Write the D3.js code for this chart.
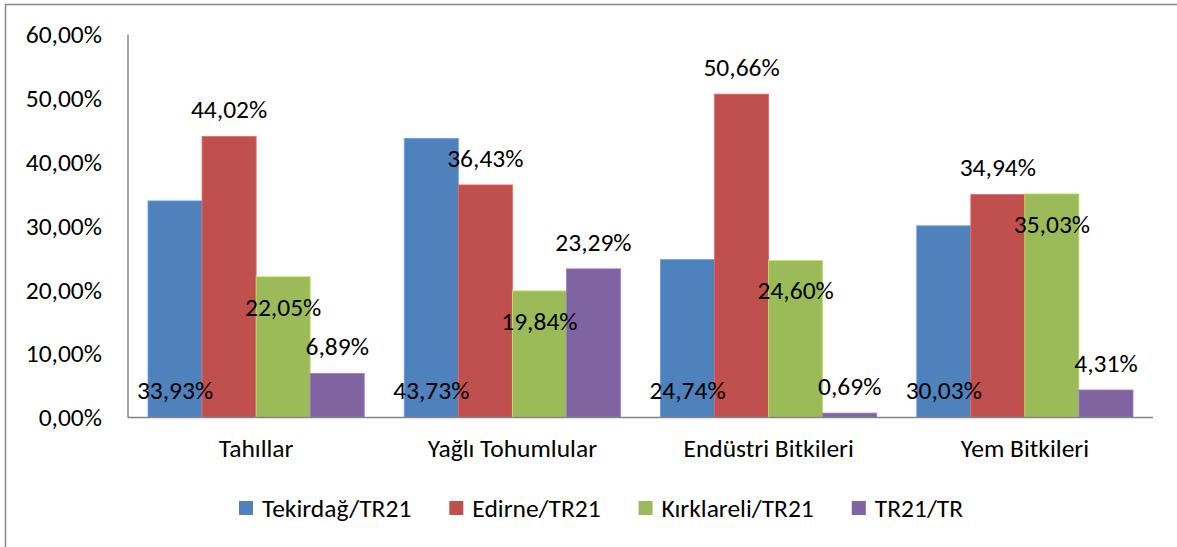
<!DOCTYPE html>
<html>
<head>
<meta charset="utf-8">
<script src="https://cdn.jsdelivr.net/npm/d3@7"></script>
<style>
  html, body { margin: 0; padding: 0; background: #fff; }
  svg { display: block; font-family: Carlito, Lato, "Open Sans", sans-serif; }
</style>
</head>
<body>
<svg id="chart" width="1177" height="547"></svg>
<script>
const categories = ["Tahıllar", "Yağlı Tohumlular", "Endüstri Bitkileri", "Yem Bitkileri"];
const seriesNames = ["Tekirdağ/TR21", "Edirne/TR21", "Kırklareli/TR21", "TR21/TR"];
const tekirdag = [33.93, 43.73, 24.74, 30.03];
const edirne = [44.02, 36.43, 50.66, 34.94];
const kirklareli = [22.05, 19.84, 24.60, 35.03];
const tr21 = [6.89, 23.29, 0.69, 4.31];
const yTicks = [0, 10, 20, 30, 40, 50, 60];
const colors = ["#4F81BD", "#C0504D", "#9BBB59", "#8064A2"];
// label placement per series: base = inside base, outEnd = outside end, inEnd = inside end
const labelPos = ["base", "outEnd", "inEnd", "outEnd"];

const seriesValues = [tekirdag, edirne, kirklareli, tr21];
const fmt = v => v.toFixed(2).replace(".", ",") + "%";

const svg = d3.select("#chart");
const FS = 25.5;

// outer frame
svg.append("rect").attr("x", 5.5).attr("y", 4.5).attr("width", 1200).attr("height", 600)
  .attr("fill", "none").attr("stroke", "#888").attr("stroke-width", 1.5);

const mLeft = 128, mRight = 1153, mTop = 34.5, mBottom = 417.5;
const x = d3.scaleBand().domain(categories).range([mLeft, mRight]).paddingInner(0).paddingOuter(0);
const inner = d3.scaleBand().domain(d3.range(4)).range([20, x.bandwidth() - 20]);
const y = d3.scaleLinear().domain([0, 60]).range([mBottom, mTop]);

// y axis ticks labels
const yAxis = d3.axisLeft(y).tickValues(yTicks).tickSize(0).tickPadding(26)
  .tickFormat(d => d.toFixed(2).replace(".", ",") + "%");
const gy = svg.append("g").attr("transform", `translate(${mLeft},0)`).call(yAxis);
gy.select(".domain").remove();
gy.selectAll("text").attr("font-size", FS).attr("fill", "#000");
gy.attr("font-family", null);

// bars
const groups = svg.append("g").selectAll("g").data(categories).join("g")
  .attr("transform", d => `translate(${x(d)},0)`);

seriesValues.forEach((vals, si) => {
  groups.append("rect")
    .attr("x", inner(si))
    .attr("width", inner.bandwidth())
    .attr("y", (d, i) => y(vals[i]))
    .attr("height", (d, i) => y(0) - y(vals[i]))
    .attr("fill", colors[si])
    .attr("stroke", d3.color(colors[si]).brighter(0.6))
    .attr("stroke-width", 0.8);
});

// axes lines
svg.append("line").attr("x1", mLeft).attr("x2", mLeft).attr("y1", mTop).attr("y2", mBottom)
  .attr("stroke", "#868686").attr("stroke-width", 1.5);
svg.append("line").attr("x1", mLeft).attr("x2", mRight).attr("y1", mBottom).attr("y2", mBottom)
  .attr("stroke", "#868686").attr("stroke-width", 1.5);

// data labels
seriesValues.forEach((vals, si) => {
  groups.append("text")
    .attr("x", inner(si) + inner.bandwidth() / 2)
    .attr("y", (d, i) => {
      const pos = labelPos[si];
      if (pos === "base") return y(0) - 27;
      if (pos === "outEnd") return y(vals[i]) - 27;
      return y(vals[i]) + 30;
    })
    .attr("dy", "0.35em")
    .attr("text-anchor", "middle")
    .attr("font-size", FS)
    .attr("fill", "#000")
    .text((d, i) => fmt(vals[i]));
});

// x category labels
const xAxis = d3.axisBottom(x).tickSize(0).tickPadding(21);
const gx = svg.append("g").attr("transform", `translate(0,${mBottom})`).call(xAxis);
gx.select(".domain").remove();
gx.selectAll("text").attr("font-size", FS).attr("fill", "#000");
gx.attr("font-family", null);

// legend
const legend = svg.append("g");
let cx = 0;
seriesNames.forEach((name, i) => {
  const g = legend.append("g");
  g.append("rect").attr("x", 0).attr("y", -7).attr("width", 14).attr("height", 14).attr("fill", colors[i]);
  const t = g.append("text").attr("x", 23).attr("dy", "0.35em").attr("font-size", FS).text(name);
  const w = 23 + t.node().getComputedTextLength();
  g.attr("transform", `translate(${cx},0)`);
  cx += w + 38;
});
const totalW = cx - 38;
legend.attr("transform", `translate(${601 - totalW / 2},508)`);
</script>
</body>
</html>
